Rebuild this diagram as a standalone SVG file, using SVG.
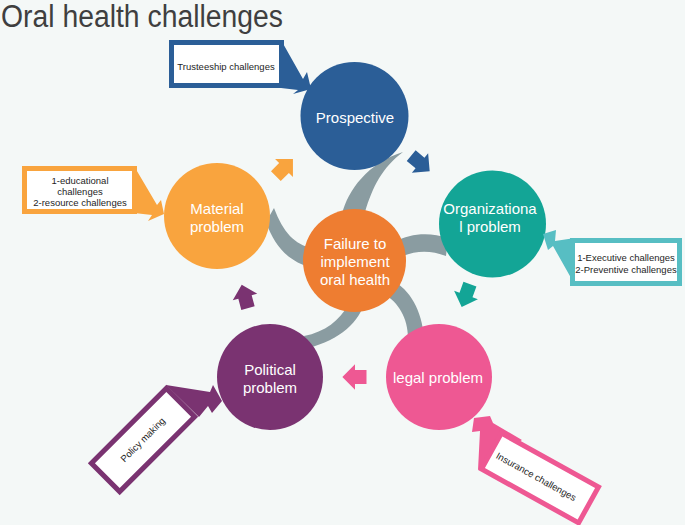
<svg xmlns="http://www.w3.org/2000/svg" width="685" height="525" viewBox="0 0 685 525">
<defs>
<style>
.bg{fill:#f4f8f7}
.title{font-family:"Liberation Sans",Arial,sans-serif;font-size:31px;fill:#3f3f3f}
.lbl{font-family:"Liberation Sans",Arial,sans-serif;font-size:15px;fill:#ffffff;text-anchor:middle}
.ct{font-family:"Liberation Sans",Arial,sans-serif;font-size:9.5px;fill:#1e1e1e;text-anchor:middle}
.arm{fill:#8a9ca1}
.box{fill:#ffffff;stroke-width:5}
</style>
<path id="arr" d="M-10,-6 H0 V-11 L11,0 L0,11 V6 H-10 Z"/>
</defs>
<rect class="bg" x="0" y="0" width="685" height="525"/>
<text class="title" x="1" y="27" textLength="282" lengthAdjust="spacingAndGlyphs">Oral health challenges</text>

<g id="connectors">
<path class="arm" d="M342,214 C348,190 368,163 403,152 C382,168 373,186 365,212 Z"/>
<path class="arm" d="M266,222 C275,248 290,262 312,268 L312,248 C295,245 283,232 274,208 Z"/>
<path class="arm" d="M395,242 C410,233 430,232 448,238 L446,256 C430,250 415,250 398,258 Z"/>
<path class="arm" d="M392,280 C410,290 422,310 424,338 L408,338 C408,318 398,302 385,295 Z"/>
<path class="arm" d="M365,300 C360,322 340,340 308,348 L304,336 C325,332 340,320 348,305 Z"/>
<use href="#arr" fill="#f9a43e" transform="translate(284,168) rotate(-45) scale(1.15)"/>
<use href="#arr" fill="#2b5e97" transform="translate(420,163) rotate(40) scale(1.15)"/>
<use href="#arr" fill="#13a596" transform="translate(466,295) rotate(110) scale(1.15)"/>
<use href="#arr" fill="#ee5893" transform="translate(355,377) rotate(180) scale(1.15)"/>
<use href="#arr" fill="#7a3371" transform="translate(245,297) rotate(-105) scale(1.15)"/>
</g>

<g id="center">
<circle cx="354.5" cy="260.5" r="51.5" fill="#ee7d31"/>
<text class="lbl"><tspan x="355" y="249">Failure to</tspan><tspan x="355" y="267">implement</tspan><tspan x="355" y="285">oral health</tspan></text>
</g>

<g id="prospective">
<circle cx="354.5" cy="116" r="54" fill="#2b5e97"/>
<text class="lbl" x="355" y="123">Prospective</text>
</g>

<g id="material">
<circle cx="217" cy="216" r="53" fill="#f9a43e"/>
<text class="lbl"><tspan x="217" y="214">Material</tspan><tspan x="217" y="232">problem</tspan></text>
</g>

<g id="organizational">
<circle cx="492.5" cy="224" r="53.5" fill="#13a596"/>
<text class="lbl"><tspan x="490" y="214">Organizationa</tspan><tspan x="490" y="232">l problem</tspan></text>
</g>

<g id="legal">
<circle cx="439" cy="377" r="53" fill="#ee5893"/>
<text class="lbl" x="438" y="383">legal problem</text>
</g>

<g id="political">
<circle cx="270" cy="377" r="53" fill="#7a3371"/>
<text class="lbl"><tspan x="270" y="375">Political</tspan><tspan x="270" y="393">problem</tspan></text>
</g>

<g id="callout-trusteeship">
<polygon points="281,40 303,79 307,72 311,89 293,94 298,90 281,88" fill="#2b5e97"/>
<rect class="box" x="171.5" y="42.5" width="110" height="43" stroke="#2b5e97"/>
<text class="ct" x="226" y="70">Trusteeship challenges</text>
</g>

<g id="callout-material">
<polygon points="134,166 157,205 161,200 164,214 148,221 152,215 134,213" fill="#f9a43e"/>
<rect class="box" x="24.5" y="168.5" width="110" height="43" stroke="#f9a43e"/>
<text class="ct"><tspan x="80" y="184">1-educational</tspan><tspan x="80" y="195">challenges</tspan><tspan x="80" y="206">2-resource challenges</tspan></text>
</g>

<g id="callout-organizational">
<polygon points="575,238 555,241 556,230 543,234 548,250 553,246 575,285" fill="#57bec3"/>
<rect class="box" x="572.5" y="240.5" width="107" height="43" stroke="#57bec3"/>
<text class="ct"><tspan x="626" y="261">1-Executive challenges</tspan><tspan x="626" y="273">2-Preventive challenges</tspan></text>
</g>

<g id="callout-political">
<polygon points="166,385 210,392 213,385 222,401 212,413 208,406 199,417" fill="#7a3371"/>
<g transform="translate(143,440) rotate(-45)">
<rect class="box" x="-53" y="-20" width="106" height="40" stroke="#7a3371"/>
<text class="ct" x="0" y="3">Policy making</text>
</g>
</g>

<g id="callout-legal">
<polygon points="522,440 493,423 490,416 474,418 472,432 480,431 478,470" fill="#ee5893"/>
<g transform="translate(540,478) rotate(29)">
<rect class="box" x="-55.5" y="-20.5" width="111" height="41" stroke="#ee5893"/>
<text class="ct" x="-4" y="4">Insurance challenges</text>
</g>
</g>
</svg>
